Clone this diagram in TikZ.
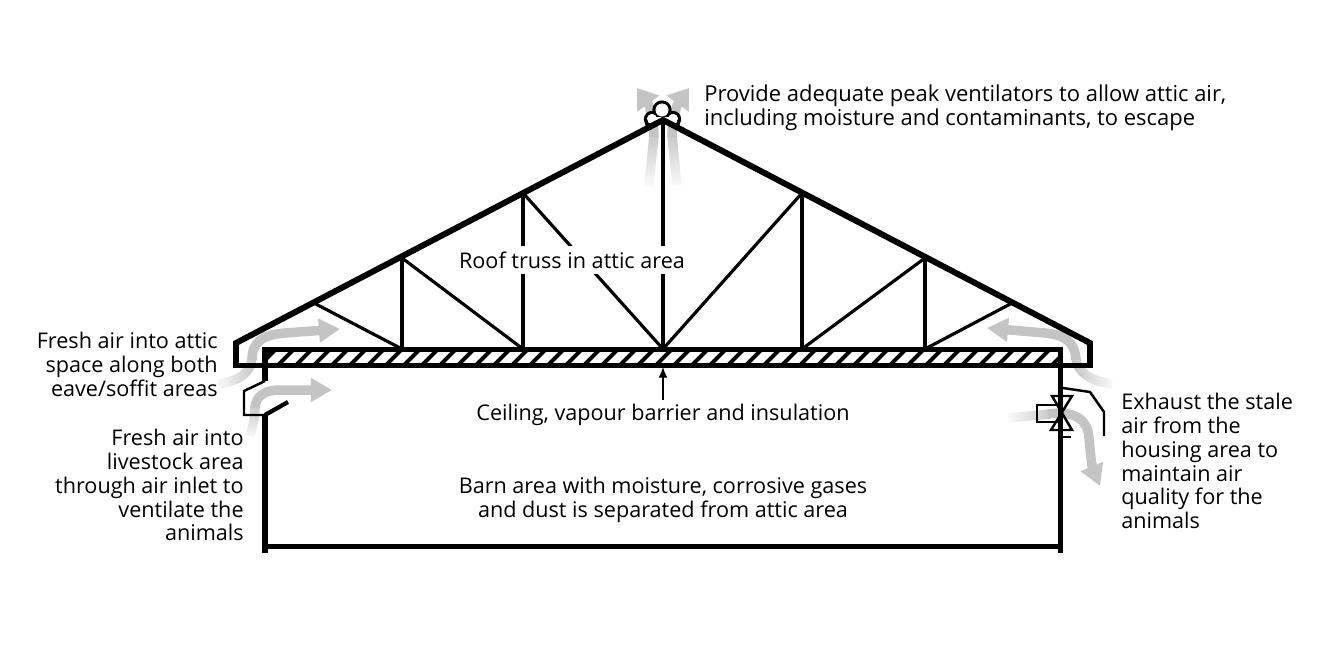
\documentclass[tikz,border=0pt]{standalone}
\usepackage{xcolor}
\usepackage{fontspec}
\usepackage{tikz}
\setmainfont{Open Sans}
\usetikzlibrary{arrows.meta,fadings}
\definecolor{airgray}{RGB}{196,196,196}
\tikzset{
  bar/.style={draw=black, line width=2.85pt, miter limit=10},
  roofbar/.style={draw=black, line width=3.4pt, miter limit=10},
  web/.style={draw=black, line width=1.8pt},
  trim/.style={draw=black, line width=1.4pt},
  airflow/.style={draw=airgray, line width=5.4pt, -{Triangle[width=13pt,length=12pt]}},
  peakflow/.style={draw=airgray, line width=5.4pt, -{Triangle[width=15pt,length=11pt]}},
  airtail/.style={draw=airgray, line width=5.4pt},
  label/.style={font=\fontsize{12.3}{13.6}\selectfont, inner sep=0pt},
}
\begin{document}
\begin{tikzpicture}[x=0.02cm,y=-0.02cm]
        \useasboundingbox (0,0) rectangle (1333,667);
        % Joints of the truss
        \coordinate (apex) at (663,120);
        \coordinate (eaveL) at (236,343);
        \coordinate (eaveR) at (1090,343);
        \coordinate (chordL) at (312,302);
        \coordinate (upperL) at (402,258);
        \coordinate (topL) at (523,193);
        \coordinate (topR) at (802,193);
        \coordinate (upperR) at (925,258);
        \coordinate (chordR) at (1014,302);
        \coordinate (footA) at (402,349);
        \coordinate (footB) at (523,349);
        \coordinate (footC) at (663,349);
        \coordinate (footD) at (802,349);
        \coordinate (footE) at (925,349);

        % Air movement
        \draw[airtail, path fading=south] (649,186) -- (654,135);
        \draw[airtail, path fading=south] (677,186) -- (672,135);
        \draw[peakflow] (654,137) .. controls (654,124) and (650,106) .. (637,88);
        \draw[peakflow] (672,137) .. controls (672,124) and (676,106) .. (689,88);
        \draw[airtail, path fading=west] (218,384) .. controls (240,381) and (251,372) .. (252,358);
        \draw[airflow] (252,360) .. controls (252,342) and (262,335) .. (285,333) -- (340,329);
        \draw[airtail, path fading=south] (250,436) .. controls (253,425) and (255,418) .. (255,406);
        \draw[airflow] (255,408) .. controls (256,396) and (264,390) .. (280,390) -- (332,390);
        \draw[airtail, path fading=east] (1112,384) .. controls (1090,381) and (1077,372) .. (1076,358);
        \draw[airflow] (1076,360) .. controls (1075,342) and (1065,335) .. (1045,333) -- (987,328);
        \draw[airtail, path fading=west] (1008,418) -- (1050,414);
        \draw[airflow] (1048,414) .. controls (1075,410) and (1088,420) .. (1089,438) .. controls (1090,450) and (1092,467) .. (1100,486);

        % Peak ventilator
        \draw[web, fill=white] (652,119) circle (6.5);
        \draw[web, fill=white] (673,119) circle (6.5);
        \draw[web, fill=white] (662,110) circle (8);
        \fill[white] (652,119) circle (5) (673,119) circle (5) (662,110) circle (6.5);
        \fill[white] (652,117) rectangle (673,124);
        \draw[web] (646,120) -- (648,130);
        \draw[web] (679,120) -- (677,130);

        % Ceiling band
        \fill[black] (265,349) rectangle (1060,365);
        \begin{scope}
          \clip (267,351) rectangle (1058,363);
          \foreach \hatchx in {265,283,...,1075} {
            \fill[white] (\hatchx,363) -- (\hatchx+12,363) -- (\hatchx+24,351) -- (\hatchx+12,351) -- cycle;
          }
        \end{scope}

        % Roof, ceiling and walls
        \draw[roofbar] (236,367.5) -- (eaveL) -- (apex) -- (eaveR) -- (1090,367.5);
        \draw[bar] (233,365) -- (1093,365);
        \draw[bar] (265,365) -- (265,349) -- (1060,349) -- (1060,365);
        \draw[bar] (265,365) -- (265,381);
        \draw[bar] (265,415) -- (265,553);
        \draw[bar] (1060,365) -- (1060,553);
        \draw[bar] (265,546) -- (1060,546);
        \draw[web] (apex) -- (footC);
        \draw[web] (chordL) -- (footA);
        \draw[web] (upperL) -- (footA);
        \draw[web] (upperL) -- (footB);
        \draw[web] (topL) -- (footB);
        \draw[web] (topL) -- (footC);
        \draw[web] (topR) -- (footC);
        \draw[web] (topR) -- (footD);
        \draw[web] (upperR) -- (footD);
        \draw[web] (upperR) -- (footE);
        \draw[web] (chordR) -- (footE);

        % Air inlet and exhaust fan
        \draw[trim] (265,381) -- (244,391) -- (244,415) -- (265,415);
        \draw[bar, line width=2.4pt] (265,415) -- (288,402);
        \draw[trim] (1060,405) -- (1037,405) -- (1037,422) -- (1060,422);
        \draw[trim] (1052,396) -- (1072,396) -- (1051,430) -- (1072,430) -- cycle;
        \draw[trim] (1060,437) -- (1071,437);
        \draw[trim] (1063,388) -- (1090,392) -- (1104,412) -- (1104,436);

        % Labels
        \node[label, font=\fontsize{12.5}{13.6}\selectfont, anchor=west, align=left] (peaklabel) at (704,108) {Provide adequate peak ventilators to allow attic air,\\including moisture and contaminants, to escape};
        \node[label, fill=white, inner xsep=0pt, inner ysep=3pt] (trusslabel) at (572,260) {Roof truss in attic area};
        \node[label, anchor=east, align=right] (eavelabel) at (218,364) {Fresh air into attic\\space along both\\eave/soffit areas};
        \node[label, anchor=east, align=right] (inletlabel) at (244,485) {Fresh air into\\livestock area\\through air inlet to\\ventilate the\\animals};
        \node[label, anchor=west, align=left] (exhaustlabel) at (1121,461) {Exhaust the stale\\air from the\\housing area to\\maintain air\\quality for the\\animals};
        \node[label, inner ysep=2pt] (ceilinglabel) at (663,415) {Ceiling, vapour barrier and insulation};
        \node[label, align=center] (barnlabel) at (663,500) {Barn area with moisture, corrosive gases\\and dust is separated from attic area};
        \coordinate (ceilinghit) at (663,367);
        \draw[-{Latex[length=6pt,width=5pt]}, line width=0.8pt] (ceilinglabel.north) -- (ceilinghit);
    \end{tikzpicture}
\end{document}
